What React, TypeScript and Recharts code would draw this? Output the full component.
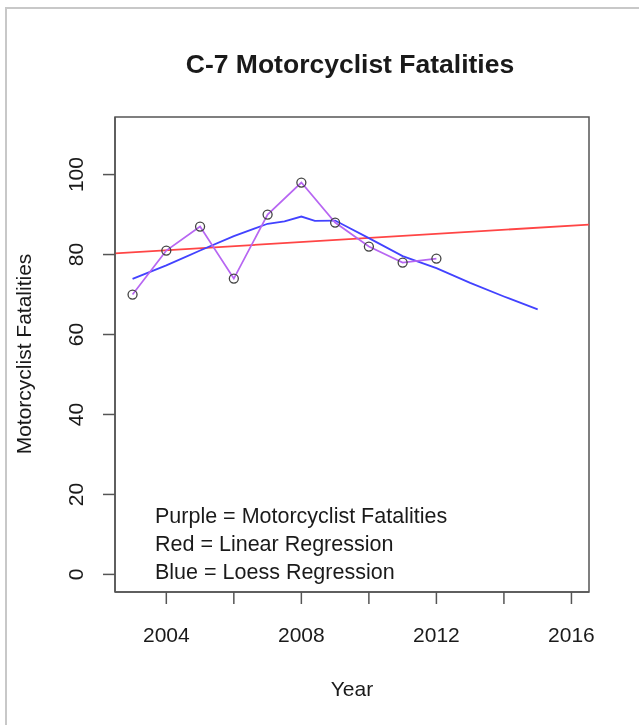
import React from 'react';
import { LineChart, Line, XAxis, YAxis, ReferenceArea } from 'recharts';

// Observed fatalities (purple)
const years = [2003, 2004, 2005, 2006, 2007, 2008, 2009, 2010, 2011, 2012];
const fatalities = [70, 81, 87, 74, 90, 98, 88, 82, 78, 79];

// Linear regression (red) – spans the whole plot region like abline()
const linearYears = [2002.48, 2016.52];
const linearValues = [80.3, 87.5];

// Loess regression (blue)
const loessYears = [2003, 2004, 2005, 2006, 2007, 2007.5, 2008, 2008.4, 2009, 2010, 2011, 2012, 2013, 2014, 2015];
const loessValues = [73.9, 77.3, 81.0, 84.6, 87.7, 88.3, 89.5, 88.4, 88.5, 84.1, 79.6, 76.6, 72.9, 69.5, 66.3];

const xTicks = [2004, 2006, 2008, 2010, 2012, 2014, 2016];
const xLabelled = [2004, 2008, 2012, 2016];
const yTicks = [0, 20, 40, 60, 80, 100];
const legendLines = ['Purple = Motorcyclist Fatalities', 'Red = Linear Regression', 'Blue = Loess Regression'];

const X_DOMAIN: [number, number] = [2002.48, 2016.52];
const Y_DOMAIN: [number, number] = [-4.4, 114.4];

const FONT = '"Liberation Sans", Arial, sans-serif';
const INK = '#1a1a1a';
const AXIS = '#555';

const fatalityData = years.map((year, i) => ({ year, value: fatalities[i] }));
const linearData = linearYears.map((year, i) => ({ year, value: linearValues[i] }));
const loessData = loessYears.map((year, i) => ({ year, value: loessValues[i] }));

const YTick = (props: any) => {
  const { x, y, payload } = props;
  return (
    <text
      x={x}
      y={y}
      transform={`rotate(-90, ${x}, ${y})`}
      textAnchor="middle"
      fontSize={21}
      fontFamily={FONT}
      fill={INK}
    >
      {payload.value}
    </text>
  );
};

const App: React.FC = () => {
  return (
    <div style={{ margin: -8, width: 639, height: 725, position: 'relative', overflow: 'hidden', background: '#fff' }}>
      {/* light frame of the original screenshot */}
      <div style={{ position: 'fixed', left: 5, top: 7, width: 634, height: 2, background: '#c8c8c8' }} />
      <div style={{ position: 'fixed', left: 5, top: 7, width: 2, height: 718, background: '#c8c8c8' }} />
      <LineChart
        width={639}
        height={725}
        margin={{ top: 117, right: 50, bottom: 73, left: 55 }}
      >
        <XAxis
          dataKey="year"
          type="number"
          domain={X_DOMAIN}
          ticks={xTicks}
          allowDataOverflow
          height={60}
          tickSize={12}
          tickMargin={23}
          tickFormatter={(v: number) => (xLabelled.includes(v) ? String(v) : '')}
          stroke={AXIS}
          strokeWidth={1.5}
          tick={{ fontSize: 21, fontFamily: FONT, fill: INK }}
        />
        <YAxis
          type="number"
          domain={Y_DOMAIN}
          ticks={yTicks}
          allowDataOverflow
          width={60}
          tickSize={12}
          tickMargin={20}
          stroke={AXIS}
          strokeWidth={1.5}
          tick={<YTick />}
        />
        {/* plot box, like R's box() */}
        <ReferenceArea
          x1={X_DOMAIN[0]}
          x2={X_DOMAIN[1]}
          y1={Y_DOMAIN[0]}
          y2={Y_DOMAIN[1]}
          fill="none"
          fillOpacity={0}
          stroke={AXIS}
          strokeWidth={1.5}
          strokeOpacity={1}
          ifOverflow="extendDomain"
        />
        <Line
          data={linearData}
          dataKey="value"
          type="linear"
          stroke="#ff4545"
          strokeWidth={1.8}
          dot={false}
          isAnimationActive={false}
        />
        <Line
          data={loessData}
          dataKey="value"
          type="linear"
          stroke="#4242ff"
          strokeWidth={1.8}
          dot={false}
          isAnimationActive={false}
        />
        <Line
          data={fatalityData}
          dataKey="value"
          type="linear"
          stroke="#b766f2"
          strokeWidth={1.7}
          dot={{ r: 4.5, stroke: '#444', strokeWidth: 1.3, fill: 'none' }}
          isAnimationActive={false}
        />
      </LineChart>
      <svg
        width={639}
        height={725}
        style={{ position: 'absolute', left: 0, top: 0, pointerEvents: 'none' }}
      >
        <text x={350} y={73} textAnchor="middle" fontSize={26.5} fontWeight="bold" fontFamily={FONT} fill={INK}>
          C-7 Motorcyclist Fatalities
        </text>
        <text x={352} y={696} textAnchor="middle" fontSize={21} fontFamily={FONT} fill={INK}>
          Year
        </text>
        <text
          x={31}
          y={354}
          transform="rotate(-90, 31, 354)"
          textAnchor="middle"
          fontSize={21}
          fontFamily={FONT}
          fill={INK}
        >
          Motorcyclist Fatalities
        </text>
        {legendLines.map((line, i) => (
          <text key={line} x={155} y={523 + i * 28} fontSize={21.5} fontFamily={FONT} fill={INK}>
            {line}
          </text>
        ))}
      </svg>
    </div>
  );
};

export default App;
